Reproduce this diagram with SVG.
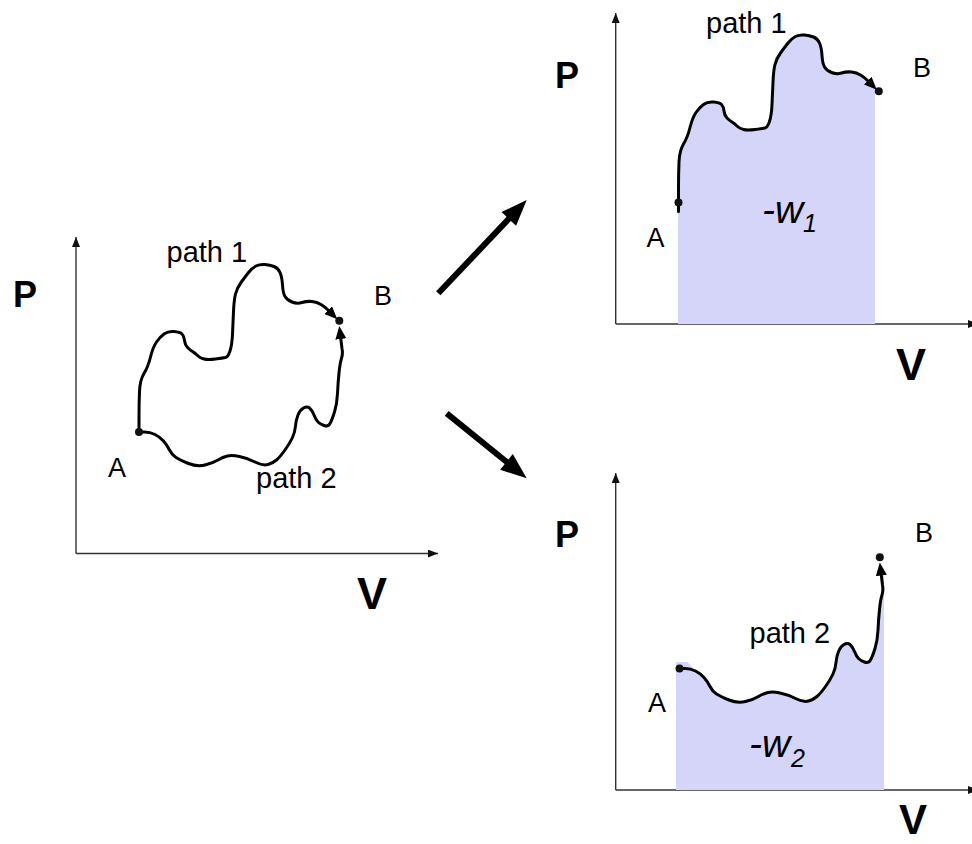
<svg xmlns="http://www.w3.org/2000/svg" xmlns:xlink="http://www.w3.org/1999/xlink" width="972" height="844" viewBox="0 0 972 844">
<style>
.axis{stroke:#333;stroke-width:1.4;fill:none}
.curve{stroke:#000;stroke-width:3;fill:none;stroke-linejoin:round;stroke-linecap:round}
.fill{fill:#D5D5FA;stroke:none}
.dot{fill:#111}
.lbl{font-family:"Liberation Sans",Arial,sans-serif;font-size:27px;fill:#000}
.pl{font-size:29px}
.axl{font-family:"Liberation Sans",Arial,sans-serif;font-weight:bold;fill:#000}
.w{font-family:"Liberation Sans",Arial,sans-serif;font-style:italic;fill:#000}
.big{stroke:#000;stroke-width:6;fill:none}
</style>
<defs>
<marker id="axh" markerUnits="userSpaceOnUse" markerWidth="10" markerHeight="8" viewBox="0 0 10 8" refX="10" refY="4" orient="auto">
<path d="M0,0 L10,4 L0,8 z" fill="#111"/>
</marker>
<marker id="ch" markerUnits="userSpaceOnUse" markerWidth="13" markerHeight="11" viewBox="0 0 13 11" refX="2" refY="5.5" orient="auto">
<path d="M0,0 L13,5.5 L0,11 z" fill="#000"/>
</marker>
<path id="p1" d="M139,432 L139,417.5 Q139,403 139.5,391.5 Q140,380 144,373.5 Q148,367 150.5,357 Q153,347 156.5,342 Q160,337 164,334 Q168,331 174,331.5 Q180,332 182,334 Q184,336 184.5,340.5 Q185,345 187.5,347.5 Q190,350 192.5,351.5 Q195,353 197.5,355.5 Q200,358 204,359 Q208,360 215.5,359 Q223,358 225.5,357.5 Q228,357 230,351 Q232,345 232.5,334 Q233,323 233.5,311.5 Q234,300 235.5,294 Q237,288 241,282.5 Q245,277 248.5,272.5 Q252,268 256,266 Q260,264 265,264.5 Q270,265 274,266.5 Q278,268 280,272.5 Q282,277 282.5,285 Q283,293 285,296.5 Q287,300 292,302 Q297,304 302,302.5 Q307,301 312,301.5 Q317,302 321,304.5 Q325,307 327.5,309.5 L329.5,311.5"/>
<path id="p2" d="M139,432 L144.5,432 Q150,432 155,434.5 Q160,437 163.5,441 Q167,445 169.5,450 Q172,455 176,457.5 Q180,460 188.5,463.5 Q197,467 205,465 Q213,463 218,460 Q223,457 227.5,456 Q232,455 239.5,456.5 Q247,458 255,462 Q263,466 268,464.5 Q273,463 276.5,460 Q280,457 285,450 Q290,443 292.5,437.5 Q295,432 295.5,426 Q296,420 298,415 Q300,410 303.5,408 Q307,406 309.5,408 Q312,410 314,415 Q316,420 318,422 Q320,424 324,425.5 Q328,427 330,423.5 Q332,420 334.5,412 Q337,404 337.5,393.5 Q338,383 339,373 Q340,363 341.5,358.5 Q343,354 342,348.5 L340.6,337"/>
</defs>

<g id="panel-main">
<line class="axis" x1="76" y1="553.5" x2="76" y2="237" marker-end="url(#axh)"/>
<line class="axis" x1="76" y1="553.5" x2="438" y2="553.5" marker-end="url(#axh)"/>
<use xlink:href="#p1" href="#p1" class="curve" marker-end="url(#ch)"/>
<use xlink:href="#p2" href="#p2" class="curve" marker-end="url(#ch)"/>
<circle class="dot" cx="139" cy="432" r="4"/>
<circle class="dot" cx="339.3" cy="320.7" r="4"/>
<text class="axl" x="13" y="307" font-size="36">P</text>
<text class="axl" x="357" y="609" font-size="45">V</text>
<text class="lbl pl" x="166.5" y="262">path 1</text>
<text class="lbl pl" x="256" y="488">path 2</text>
<text class="lbl" x="374" y="305">B</text>
<text class="lbl" x="108" y="477">A</text>
</g>

<g id="panel-path1">
<line class="axis" x1="615.7" y1="324" x2="615.7" y2="13" marker-end="url(#axh)"/>
<line class="axis" x1="615.7" y1="324" x2="978" y2="324" marker-end="url(#axh)"/>
<g transform="translate(539.5,-229.5)">
<path class="fill" d="M138.5,553.5 L138.5,441 L139,441 L139,432 L139,417.5 Q139,403 139.5,391.5 Q140,380 144,373.5 Q148,367 150.5,357 Q153,347 156.5,342 Q160,337 164,334 Q168,331 174,331.5 Q180,332 182,334 Q184,336 184.5,340.5 Q185,345 187.5,347.5 Q190,350 192.5,351.5 Q195,353 197.5,355.5 Q200,358 204,359 Q208,360 215.5,359 Q223,358 225.5,357.5 Q228,357 230,351 Q232,345 232.5,334 Q233,323 233.5,311.5 Q234,300 235.5,294 Q237,288 241,282.5 Q245,277 248.5,272.5 Q252,268 256,266 Q260,264 265,264.5 Q270,265 274,266.5 Q278,268 280,272.5 Q282,277 282.5,285 Q283,293 285,296.5 Q287,300 292,302 Q297,304 302,302.5 Q307,301 312,301.5 Q317,302 321,304.5 Q325,307 327.5,309.5 L330,312 L335.5,317 L335.5,553.5 Z"/>
<line class="curve" x1="139" y1="432" x2="139" y2="441"/>
<use xlink:href="#p1" href="#p1" class="curve" marker-end="url(#ch)"/>
<circle class="dot" cx="139" cy="432" r="4"/>
<circle class="dot" cx="339.3" cy="320.7" r="4"/>
</g>
<text class="axl" x="555" y="88" font-size="36">P</text>
<text class="axl" x="896" y="380" font-size="45">V</text>
<text class="lbl pl" x="706" y="33">path 1</text>
<text class="lbl" x="913" y="77">B</text>
<text class="lbl" x="646.5" y="247">A</text>
<text class="w" x="762" y="223" font-size="39">-w</text>
<text class="w" x="803" y="232" font-size="25">1</text>
</g>

<g id="panel-path2">
<line class="axis" x1="615.7" y1="790" x2="615.7" y2="473" marker-end="url(#axh)"/>
<line class="axis" x1="615.7" y1="790" x2="978" y2="790" marker-end="url(#axh)"/>
<g transform="translate(540.5,236.5)">
<path class="fill" d="M135.5,553.5 L135.5,425.5 L147,425.5 L155,434.5 Q160,437 163.5,441 Q167,445 169.5,450 Q172,455 176,457.5 Q180,460 188.5,463.5 Q197,467 205,465 Q213,463 218,460 Q223,457 227.5,456 Q232,455 239.5,456.5 Q247,458 255,462 Q263,466 268,464.5 Q273,463 276.5,460 Q280,457 285,450 Q290,443 292.5,437.5 Q295,432 295.5,426 Q296,420 298,415 Q300,410 303.5,408 Q307,406 309.5,408 Q312,410 314,415 Q316,420 318,422 Q320,424 324,425.5 Q328,427 330,423.5 Q332,420 334.5,412 Q337,404 337.5,393.5 Q338,383 339,373 Q340,363 341.5,358.5 Q343,354 342,348.5 L340.5,336 L343.5,336 L343.5,553.5 Z"/>
<use xlink:href="#p2" href="#p2" class="curve" marker-end="url(#ch)"/>
<circle class="dot" cx="139" cy="432" r="4"/>
<circle class="dot" cx="339.3" cy="320.7" r="4"/>
</g>
<text class="axl" x="899" y="834" font-size="42">V</text>
<text class="axl" x="555" y="547" font-size="36">P</text>
<text class="lbl pl" x="749.5" y="643">path 2</text>
<text class="lbl" x="915" y="542">B</text>
<text class="lbl" x="648" y="712">A</text>
<text class="w" x="749" y="757" font-size="39">-w</text>
<text class="w" x="791" y="767" font-size="25">2</text>
</g>

<g id="connectors">
<line class="big" x1="438.3" y1="293.3" x2="510" y2="217.6"/>
<polygon points="526.7,200 516.1,225.8 501.5,212" fill="#000"/>
<line class="big" x1="446.7" y1="413.3" x2="508" y2="463"/>
<polygon points="526.7,478.3 500.2,469.7 512.8,454.1" fill="#000"/>
</g>
</svg>
